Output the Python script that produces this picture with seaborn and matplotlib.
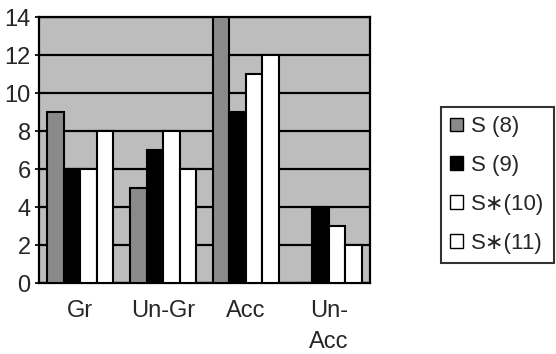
import matplotlib
matplotlib.use("Agg")
import matplotlib.pyplot as plt
import seaborn as sns
import pandas as pd
from matplotlib.patches import Patch

categories = ["Gr", "Un-Gr", "Acc", "Un-\nAcc"]
series = ["S (8)", "S (9)", "S\u2217(10)", "S\u2217(11)"]
s8 = [9, 5, 14, 0]
s9 = [6, 7, 9, 4]
s10 = [6, 8, 11, 3]
s11 = [8, 6, 12, 2]
yticks = [0, 2, 4, 6, 8, 10, 12, 14]

rows = []
for name, vals in zip(series, [s8, s9, s10, s11]):
    for c, v in zip(categories, vals):
        rows.append({"cat": c, "series": name, "value": v})
df = pd.DataFrame(rows)

sns.set_theme(style="white")
plt.rcParams['font.family'] = ['Liberation Sans', 'DejaVu Sans']

W, H = 556, 354
colors = ["#8a8a8a", "#000000", "#ffffff", "#ffffff"]
fig = plt.figure(figsize=(W / 100, H / 100), dpi=100)
x0, x1, y0, y1 = 39, 370, 283, 17
ax = fig.add_axes([x0 / W, 1 - y0 / H, (x1 - x0) / W, (y0 - y1) / H])
ax.set_facecolor("#bdbdbd")
sns.barplot(data=df, x="cat", y="value", hue="series", hue_order=series,
            palette=colors, edgecolor="black", linewidth=1.5, width=0.8,
            ax=ax, legend=False, zorder=3)
ax.set_ylim(0, 14)
ax.set_yticks(yticks)
ax.yaxis.grid(True, color="black", linewidth=1.6, zorder=0)
ax.set_axisbelow(True)
ax.set_xlabel("")
ax.set_ylabel("")
ax.tick_params(axis="y", labelsize=17, length=3, left=True, color="black", pad=3)
ax.tick_params(axis="x", labelsize=17, length=0, pad=12)
for lab in ax.get_xticklabels():
    lab.set_linespacing(1.55)
    lab.set_verticalalignment("top")
for sp in ax.spines.values():
    sp.set_color("black")
    sp.set_linewidth(1.6)

handles = [Patch(facecolor=c, edgecolor="black", linewidth=1) for c in colors]
leg = fig.legend(handles, series, loc="upper left", bbox_to_anchor=(441 / W, 1 - 107 / H),
                 fontsize=16, frameon=True, fancybox=False, handlelength=0.58,
                 handleheight=0.58, handletextpad=0.35, labelspacing=0.8,
                 borderpad=0.42, borderaxespad=0)
leg.get_frame().set_edgecolor("black")
leg.get_frame().set_linewidth(1.5)

fig.savefig("out.png", dpi=100)
